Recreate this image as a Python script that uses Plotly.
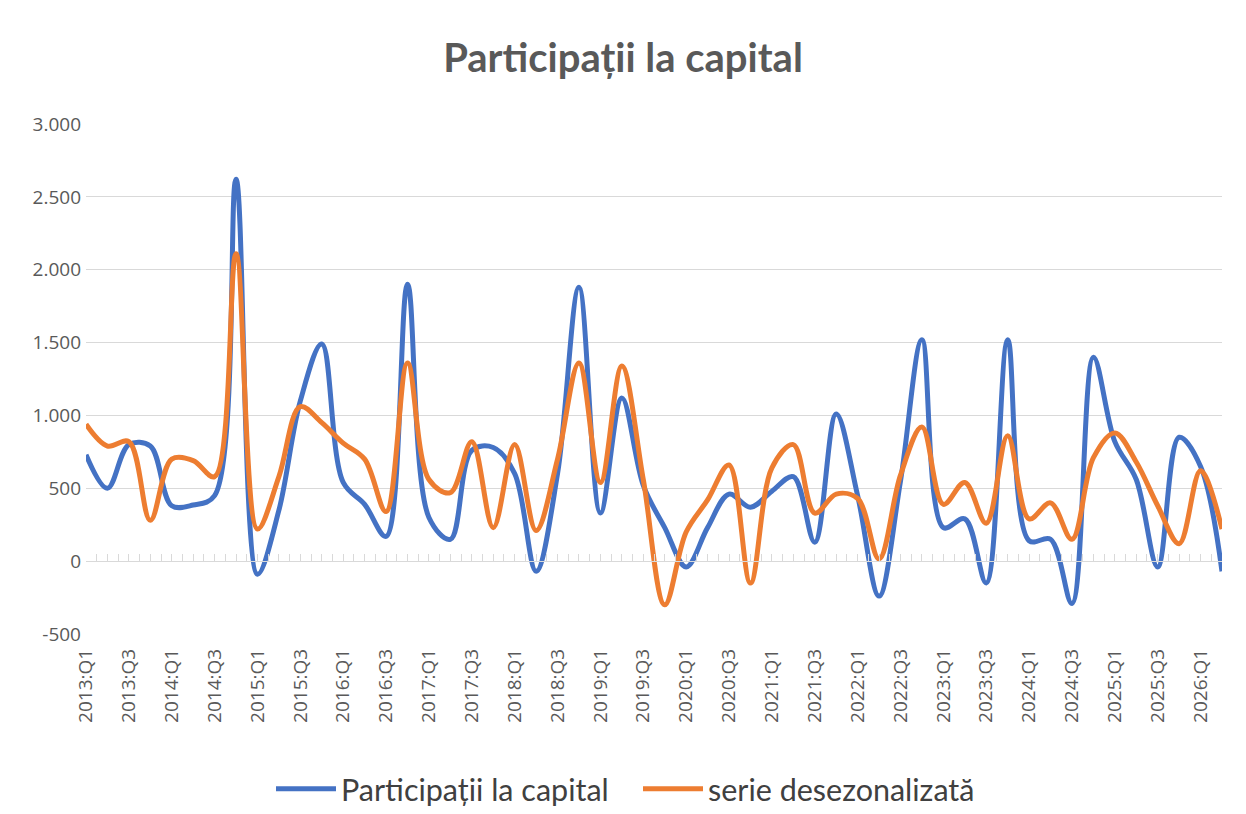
import plotly.graph_objects as go

quarters = [
    "2013:Q1", "2013:Q2", "2013:Q3", "2013:Q4",
    "2014:Q1", "2014:Q2", "2014:Q3", "2014:Q4",
    "2015:Q1", "2015:Q2", "2015:Q3", "2015:Q4",
    "2016:Q1", "2016:Q2", "2016:Q3", "2016:Q4",
    "2017:Q1", "2017:Q2", "2017:Q3", "2017:Q4",
    "2018:Q1", "2018:Q2", "2018:Q3", "2018:Q4",
    "2019:Q1", "2019:Q2", "2019:Q3", "2019:Q4",
    "2020:Q1", "2020:Q2", "2020:Q3", "2020:Q4",
    "2021:Q1", "2021:Q2", "2021:Q3", "2021:Q4",
    "2022:Q1", "2022:Q2", "2022:Q3", "2022:Q4",
    "2023:Q1", "2023:Q2", "2023:Q3", "2023:Q4",
    "2024:Q1", "2024:Q2", "2024:Q3", "2024:Q4",
    "2025:Q1", "2025:Q2", "2025:Q3", "2025:Q4",
    "2026:Q1", "2026:Q2",
]

participatii = [
    730, 500, 800, 790, 380, 385, 450, 2620,
    -90, 350, 1100, 1490, 540, 390, 170, 1900,
    300, 150, 760, 780, 600, -70, 600, 1880,
    330, 1120, 520, 230, -40, 230, 460, 370,
    480, 580, 130, 1010, 450, -240, 550, 1520,
    230, 290, -150, 1520, 140, 150, -290, 1400,
    820, 560, -40, 850, 650, -70,
]

desezonalizata = [
    940, 790, 820, 280, 700, 690, 580, 2110,
    220, 580, 1060, 950, 810, 700, 340, 1360,
    560, 470, 820, 230, 800, 210, 700, 1360,
    540, 1340, 560, -300, 200, 420, 660, -150,
    640, 800, 330, 460, 430, 15, 590, 920,
    390, 540, 260, 860, 290, 400, 150, 710,
    880, 680, 380, 120, 620, 220,
]

y_ticks = [-500, 0, 500, 1000, 1500, 2000, 2500, 3000]
y_tick_labels = ["-500", "0", "500", "1.000", "1.500", "2.000", "2.500", "3.000"]

idx = list(range(len(quarters)))
label_idx = idx[::2]
label_text = quarters[::2]

grey_text = "#595959"
grid = "#d9d9d9"
OFF = 8  # page body margin

fig = go.Figure()
fig.add_trace(go.Scatter(
    x=idx, y=participatii, mode="lines", name="Participații la capital",
    line=dict(color="#4472C4", width=5, shape="spline", smoothing=1.0),
    xaxis="x", yaxis="y",
))
fig.add_trace(go.Scatter(
    x=idx, y=desezonalizata, mode="lines", name="serie desezonalizată",
    line=dict(color="#ED7D31", width=5, shape="spline", smoothing=1.0),
    xaxis="x2", yaxis="y",
))

n = len(quarters) - 1
fig.update_layout(
    width=1246, height=814,
    paper_bgcolor="white", plot_bgcolor="white",
    margin=dict(l=86 - OFF, r=24 + OFF, t=124 - OFF, b=180 + OFF),
    font=dict(family="Lato, Open Sans, sans-serif", color=grey_text),
    title=dict(text="<b>Participații la capital</b>", x=(623 - OFF) / 1246,
               xanchor="center", xref="container",
               y=1 - (58 - OFF) / 814, yanchor="middle", yref="container",
               font=dict(size=40, color=grey_text, family="Lato, Open Sans, sans-serif")),
    xaxis=dict(range=[0, n], tickvals=label_idx, ticktext=label_text,
               tickangle=-90, showgrid=False, zeroline=False, showline=False,
               ticks="", automargin=False, ticklabelstandoff=10,
               tickfont=dict(size=19, color=grey_text,
                             family="Open Sans, Lato, sans-serif")),
    xaxis2=dict(range=[0, n], overlaying="x", anchor="free",
                position=500 / 3500, side="bottom", showgrid=False,
                zeroline=False, showline=True, linecolor=grid, linewidth=1,
                ticks="inside", ticklen=7, tickcolor=grid, tickwidth=1,
                dtick=0.5, tick0=0, showticklabels=False, automargin=False),
    yaxis=dict(range=[-500, 3000], tickvals=y_ticks, ticktext=y_tick_labels,
               showgrid=True, gridcolor=grid, gridwidth=1, zeroline=False,
               showline=False, ticks="", automargin=False, ticklabelstandoff=4,
               tickfont=dict(size=19, color=grey_text,
                             family="Open Sans, Lato, sans-serif")),
    legend=dict(orientation="h", x=(638 - OFF) / 1246, xanchor="center", xref="container",
                y=1 - (789 - OFF) / 814, yanchor="middle", yref="container",
                font=dict(size=30.5, color="#404040",
                          family="Lato, Open Sans, sans-serif"),
                itemwidth=60, entrywidth=292, traceorder="normal"),
    showlegend=True,
)

fig.write_html("out.html")
